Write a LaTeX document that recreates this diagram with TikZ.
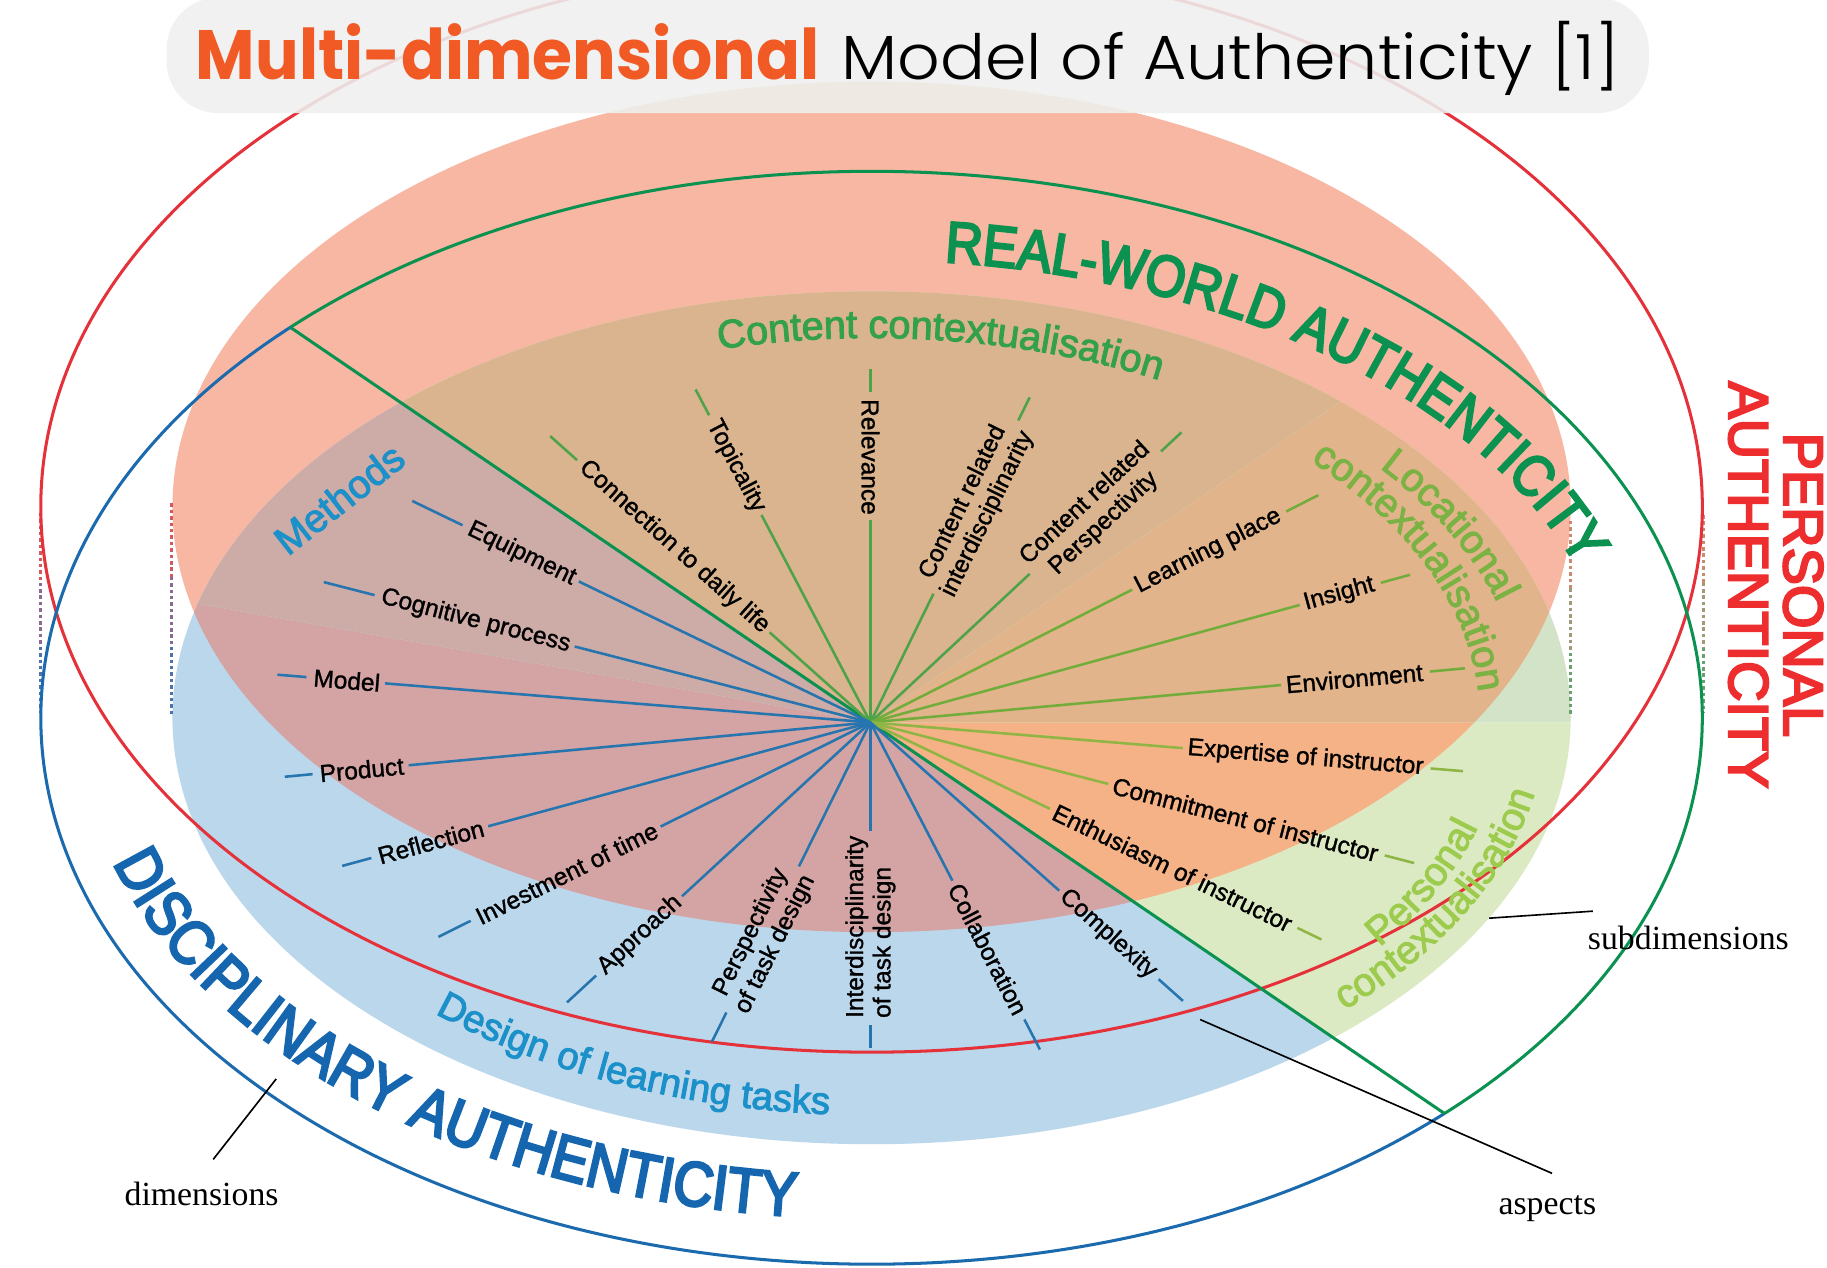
\documentclass[tikz,border=0pt]{standalone}
\usepackage{fontspec}
\usepackage{graphicx}
\setmainfont{Liberation Sans}
\newfontfamily\dimfont{Liberation Sans}[FakeStretch=0.88, FakeBold=4]
\newfontfamily\persfont{Liberation Sans}[FakeBold=4]
\newfontfamily\medsans{Liberation Sans}[FakeBold=2.5]
\newfontfamily\aspfont{Liberation Sans}[FakeBold=1.2]
\newfontfamily\serifLS{Liberation Serif}
\newfontfamily\popfont{Poppins}
\newfontfamily\poplight{Poppins Light}
\usetikzlibrary{calc,decorations.text}

\definecolor{cSalmon}{HTML}{F7B7A3}
\definecolor{cContOv}{HTML}{D9B48E}
\definecolor{cContDn}{HTML}{D6E4BF}
\definecolor{cMethOv}{HTML}{CDABA7}
\definecolor{cMethDn}{HTML}{BFD3E4}
\definecolor{cDesOv}{HTML}{D4A4A4}
\definecolor{cDesDn}{HTML}{BBD7EC}
\definecolor{cPersOv}{HTML}{F4B286}
\definecolor{cPersDn}{HTML}{DCEAC3}
\definecolor{cLocOv}{HTML}{E2B48C}
\definecolor{cLocDn}{HTML}{D3E3C8}
\definecolor{cRed}{HTML}{E5323A}
\definecolor{cGreen}{HTML}{0B9150}
\definecolor{cBlue}{HTML}{1B6AAE}
\definecolor{tReal}{HTML}{0B9150}
\definecolor{tDisc}{HTML}{1566AF}
\definecolor{tPers}{HTML}{EE2E2E}
\definecolor{tCont}{HTML}{33A04A}
\definecolor{tLoc}{HTML}{7AB243}
\definecolor{tPcon}{HTML}{9CCB4E}
\definecolor{tMeth}{HTML}{1C90C9}
\definecolor{sCont}{HTML}{4EA34A}
\definecolor{sLoc}{HTML}{72AD3C}
\definecolor{sPers}{HTML}{8FB545}
\definecolor{sBlue}{HTML}{2775AE}
\definecolor{pillc}{HTML}{EEF0EE}
\definecolor{tOrange}{HTML}{F15A24}
\definecolor{dRedA}{HTML}{D05A60}
\definecolor{dPurA}{HTML}{8A6A90}
\definecolor{dBluA}{HTML}{4F72AA}
\definecolor{dRedB}{HTML}{C98A70}
\definecolor{dMidB}{HTML}{A09A78}
\definecolor{dGrnB}{HTML}{6AA070}

\tikzset{
  lbl/.style={font=\aspfont\fontsize{21}{23.5}\selectfont, text=black, inner sep=4pt, align=center},
  spoke/.style={line width=2.2pt},
  oline/.style={line width=2.6pt},
  dotl/.style={line width=2.5pt, dash pattern=on 3pt off 2.5pt},
  leader/.style={line width=1.4pt, black},
  serifl/.style={font=\serifLS\fontsize{29}{29}\selectfont, text=black, inner sep=0pt}
}

\newcommand{\secfill}[4]{%
  \begin{scope}
    \clip (C) -- ($(C)+(#1:2500pt)$) -- ($(C)+({(#1+#2)/2}:2500pt)$) -- ($(C)+(#2:2500pt)$) -- cycle;
    \fill[#3] (ED) ellipse [x radius=600pt, y radius=366pt];
    \clip (EU) ellipse [x radius=600pt, y radius=365pt];
    \fill[#4] (ED) ellipse [x radius=600pt, y radius=366pt];
  \end{scope}}

\newcommand{\aspout}[7][]{%
  \node[lbl,#1,rotate=#3,anchor=west] (#2) at ($(C)+(#3:#4pt)$) {#6};
  \draw[spoke,#5] (C) -- (#2.west);
  \draw[spoke,#5] (#2.east) ++(#3:2pt) -- ++(#3:#7pt);}

\newcommand{\aspin}[8][]{%
  \node[lbl,#1,rotate=#4,anchor=east] (#2) at ($(C)+(#3:#5pt)$) {#7};
  \draw[spoke,#6] (C) -- (#2.east);
  \draw[spoke,#6] (#2.west) ++(#3:2pt) -- ++(#3:#8pt);}

\begin{document}
\begin{tikzpicture}[x=1pt,y=1pt]
\useasboundingbox (0,0) rectangle (1568,-1088);
\fill[white] (0,0) rectangle (1568,-1088);

\coordinate (C) at (747,-620);
\coordinate (EU) at (748,-435);
\coordinate (ED) at (748,-616);
\coordinate (CC) at (748,-618);

% upper filled ellipse
\fill[cSalmon] (EU) ellipse [x radius=600pt, y radius=365pt];
% lower filled ellipse, by sectors
\secfill{34.3}{145.7}{cContDn}{cContOv}
\secfill{145.7}{170}{cMethDn}{cMethOv}
\secfill{170}{325.7}{cDesDn}{cDesOv}
\secfill{-34.3}{0}{cPersDn}{cPersOv}
\secfill{0}{34.3}{cLocDn}{cLocOv}

% dotted vertical edges
\draw[dotl, dRedA] (35,-440) -- (35,-500);
\draw[dotl, dPurA] (35,-500) -- (35,-555);
\draw[dotl, dBluA] (35,-555) -- (35,-612);
\draw[dotl, dRedA] (147,-432) -- (147,-495);
\draw[dotl, dPurA] (147,-495) -- (147,-555);
\draw[dotl, dBluA] (147,-555) -- (147,-615);
\draw[dotl, dRedB] (1348,-447) -- (1348,-505);
\draw[dotl, dMidB] (1348,-505) -- (1348,-560);
\draw[dotl, dGrnB] (1348,-560) -- (1348,-615);
\draw[dotl, dRedB] (1462,-442) -- (1462,-500);
\draw[dotl, dMidB] (1462,-500) -- (1462,-556);
\draw[dotl, dGrnB] (1462,-556) -- (1462,-612);

% outline ellipses
\draw[oline, cRed] (EU) ellipse [x radius=713pt, y radius=468pt];
\coordinate (P1) at ($(ED)+(134.4:713pt and 469pt)$);
\coordinate (P2) at ($(ED)+(-46.4:713pt and 469pt)$);
\draw[oline, cGreen] (P1) arc[start angle=134.4, end angle=-46.4, x radius=713pt, y radius=469pt];
\draw[oline, cBlue] (P1) arc[start angle=134.4, end angle=313.6, x radius=713pt, y radius=469pt];
\draw[oline, cGreen] (P1) -- (P2);

% aspects: content contextualisation
\aspin{a1}{138.2}{-41.8}{116}{sCont}{Connection to daily life}{31}
\aspin{a2}{117.7}{-62.3}{201}{sCont}{Topicality}{25}
\aspin{a3}{90}{-90}{174}{sCont}{Relevance}{20}
\aspout{a4}{63.9}{123}{sCont}{Content related\\interdisciplinarity}{22}
\aspout{a5}{43}{187}{sCont}{Content related\\Perspectivity}{24}
% locational
\aspout{a6}{26.9}{252}{sLoc}{Learning place}{31}
\aspout{a7}{15.3}{382}{sLoc}{Insight}{26}
\aspout{a8}{5.2}{354}{sLoc}{Environment}{30}
% personal
\aspout{a9}{-4.7}{269}{sPers}{Expertise of instructor}{28}
\aspout{a10}{-14.5}{211}{sPers}{Commitment of instructor}{26}
\aspout{a11}{-25.7}{171}{sPers}{Enthusiasm of instructor}{23}
% design of learning tasks and methods
\aspout{a12}{-41.7}{217}{sBlue}{Complexity}{28}
\aspout{a13}{-62.6}{153}{sBlue}{Collaboration}{29}
\aspin[align=left]{a14}{-90}{90}{93}{sBlue}{Interdisciplinarity\\of task design}{20}
\aspin{a15}{-116.4}{63.6}{138}{sBlue}{Perspectivity\\of task design}{28}
\aspin{a16}{-137.3}{42.7}{220}{sBlue}{Approach}{34}
\aspin{a17}{-153.6}{26.4}{201}{sBlue}{Investment of time}{31}
\aspin{a18}{-164.8}{15.2}{340}{sBlue}{Reflection}{26}
\aspin{a19}{-174.7}{5.3}{398}{sBlue}{Product}{24}
\aspin{a20}{175.4}{-4.6}{418}{sBlue}{Model}{25}
\aspin{a21}{165.6}{-14.4}{262}{sBlue}{Cognitive process}{45}
\aspin{a22}{154.2}{-25.8}{278}{sBlue}{Equipment}{48}

% dimension titles along arcs
\path[decorate, decoration={text along path, text color=tReal,
  text={|\dimfont\fontsize{50}{50}\selectfont|REAL-WORLD AUTHENTICITY}}]
  ($(ED)+(84.4:641pt and 393pt)$) arc[start angle=84.4, end angle=-10, x radius=641pt, y radius=393pt];
\path[decorate, decoration={text along path, text color=tDisc,
  text={|\dimfont\fontsize{54}{54}\selectfont|DISCIPLINARY AUTHENTICITY}}]
  ($(ED)+(196.8:680pt and 430pt)$) arc[start angle=196.8, end angle=300, x radius=680pt, y radius=430pt];

% subdimension titles
\path[decorate, decoration={text along path, text color=tCont,
  text={|\medsans\fontsize{34}{34}\selectfont|Content contextualisation}}]
  ($(CC)+(104:541pt and 328pt)$) arc[start angle=104, end angle=30, x radius=541pt, y radius=328pt];
\path[decorate, decoration={text along path, text color=tLoc,
  text={|\medsans\fontsize{34}{34}\selectfont|Locational}}]
  ($(ED)+(39:561pt and 341pt)$) arc[start angle=39, end angle=-20, x radius=561pt, y radius=341pt];
\path[decorate, decoration={text along path, text color=tLoc,
  text={|\medsans\fontsize{34}{34}\selectfont|contextualisation}}]
  ($(ED)+(43.8:522pt and 318pt)$) arc[start angle=43.8, end angle=-20, x radius=522pt, y radius=318pt];
\path[decorate, decoration={text along path, text color=tPcon,
  text={|\medsans\fontsize{34}{34}\selectfont|Personal}}]
  ($(ED)+(-36.6:543pt and 330pt)$) arc[start angle=-36.6, end angle=20, x radius=543pt, y radius=330pt];
\path[decorate, decoration={text along path, text color=tPcon,
  text={|\medsans\fontsize{34}{34}\selectfont|contextualisation}}]
  ($(ED)+(-45.5:579pt and 352pt)$) arc[start angle=-45.5, end angle=20, x radius=579pt, y radius=352pt];
\path[decorate, decoration={text along path, text color=tMeth,
  text={|\medsans\fontsize{33}{33}\selectfont|Design of learning tasks}}]
  ($(ED)+(228.1:561pt and 341pt)$) arc[start angle=228.1, end angle=300, x radius=561pt, y radius=341pt];
\node[font=\medsans\fontsize{34}{34}\selectfont, text=tMeth, rotate=38, inner sep=0pt] (meth) at (291,-428) {Methods};

\node[font=\persfont\fontsize{48}{47}\selectfont, text=tPers, rotate=-90, align=center, inner sep=0pt] (pa) at (1524,-502) {PERSONAL\\AUTHENTICITY};

% title pill
\fill[pillc, fill opacity=0.88, rounded corners=44pt] (143,2) rectangle (1415,-97);
\node[anchor=base west, inner sep=0pt] (t1) at (168,-68) {\resizebox{535pt}{48pt}{\popfont\bfseries\color{tOrange}Multi-dimensional}};
\node[anchor=base west, inner sep=0pt] (t2) at (722,-68) {\resizebox{668pt}{50pt}{\poplight Model of Authenticity [1]}};

% legend labels
\node[serifl] (ldim) at (173,-1025) {dimensions};
\node[serifl] (lsub) at (1449,-805) {subdimensions};
\node[serifl] (lasp) at (1328,-1037) {aspects};
\coordinate (dimA) at (183,-995);
\coordinate (dimB) at (237,-926);
\coordinate (subA) at (1367,-782);
\coordinate (subB) at (1278,-788);
\coordinate (aspA) at (1332,-1007);
\coordinate (aspB) at (1030,-875);
\draw[leader] (dimA) -- (dimB);
\draw[leader] (subA) -- (subB);
\draw[leader] (aspA) -- (aspB);
\end{tikzpicture}
\end{document}
